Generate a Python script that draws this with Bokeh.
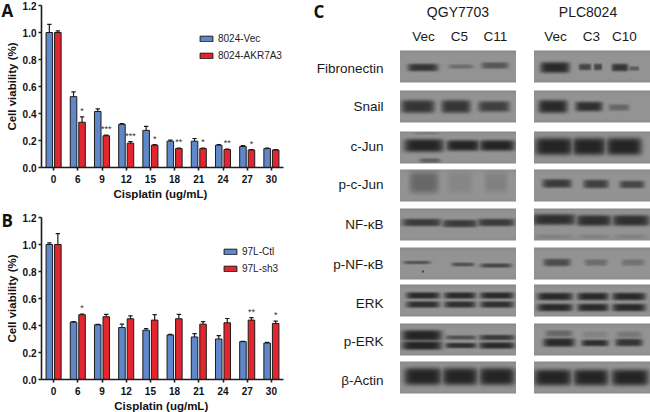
import math
import numpy as np
from bokeh.embed import file_html
from bokeh.resources import INLINE
from bokeh.layouts import row, column
from bokeh.models import ColumnDataSource, FactorRange, Range1d, Legend, LegendItem, FixedTicker, NumeralTickFormatter
from bokeh.plotting import figure
from bokeh.transform import dodge
from bokeh.core.properties import value

DOSES = ["0", "6", "9", "12", "15", "18", "21", "24", "27", "30"]
A_VEC = [1.0, .525, .415, .32, .275, .195, .195, .165, .155, .14]
A_VEC_ERR = [.06, .035, .02, .005, .03, .008, .02, .004, .007, .004]
A_AKR = [1.0, .335, .235, .18, .165, .14, .14, .133, .13, .13]
A_AKR_ERR = [.012, .04, .005, .012, .004, .003, .003, .003, .003, .003]
A_STARS = ["", "*", "***", "***", "*", "**", "*", "**", "*", ""]
B_CTL = [1.0, .425, .405, .385, .365, .33, .315, .30, .28, .27]
B_CTL_ERR = [.012, .003, .003, .025, .012, .005, .025, .025, .002, .005]
B_SH3 = [1.0, .48, .465, .45, .44, .45, .41, .42, .44, .415]
B_SH3_ERR = [.08, .005, .018, .022, .04, .032, .018, .032, .018, .018]
B_STARS = ["", "*", "", "", "", "", "", "", "**", "*"]
X_TITLE = "Cisplatin (ug/mL)"
Y_TITLE = "Cell viability (%)"

BLUE = "#5f87c9"
RED = "#e2252f"
INK = "#1c1c1c"
BOLD = "Liberation Sans"
STRIP_W = 19
STRIP_H = 13


def bar_panel(name1, v1, e1, name2, v2, e2, stars, height, top, left, legend_xy):
    bottom = height - top - 162
    p = figure(width=310 - STRIP_W, height=height, x_range=FactorRange(factors=DOSES, range_padding=0),
               y_range=Range1d(0, 1.2), output_backend="svg", toolbar_location=None,
               min_border_left=left, min_border_right=310 - STRIP_W - left - 244, min_border_top=top,
               min_border_bottom=bottom, outline_line_color=None)
    p.grid.visible = False
    src = ColumnDataSource(dict(x=DOSES, a=v1, b=v2,
                                at=[v + e for v, e in zip(v1, e1)],
                                bt=[v + e for v, e in zip(v2, e2)],
                                s=stars))
    off = 0.176
    w = 0.27
    r1 = p.vbar(x=dodge("x", -off, range=p.x_range), top="a", width=w, bottom=0, source=src,
                fill_color=BLUE, line_color=INK, line_width=1)
    r2 = p.vbar(x=dodge("x", off, range=p.x_range), top="b", width=w, bottom=0, source=src,
                fill_color=RED, line_color=INK, line_width=1)
    for col, o in (("at", -off), ("bt", off)):
        base = "a" if col == "at" else "b"
        p.segment(x0=dodge("x", o, range=p.x_range), x1=dodge("x", o, range=p.x_range),
                  y0=base, y1=col, source=src, line_color=INK, line_width=1.2)
        p.segment(x0=dodge("x", o - 0.09, range=p.x_range), x1=dodge("x", o + 0.09, range=p.x_range),
                  y0=col, y1=col, source=src, line_color=INK, line_width=1.2)
    p.text(x=dodge("x", off, range=p.x_range), y="bt", text="s", source=src, text_align="center",
           text_baseline="middle", y_offset=-6, text_font=value(BOLD), text_font_size="9px",
           text_color="#333333")
    p.yaxis.ticker = FixedTicker(ticks=[0, .2, .4, .6, .8, 1.0, 1.2])
    p.yaxis.formatter = NumeralTickFormatter(format="0.0")
    for ax in (p.xaxis[0], p.yaxis[0]):
        ax.axis_line_width = 1.6
        ax.axis_line_color = INK
        ax.major_tick_line_width = 1.6
        ax.major_tick_line_color = INK
        ax.minor_tick_line_color = None
        ax.major_tick_out = 3
        ax.major_tick_in = 0
        ax.major_label_text_font = BOLD
        ax.major_label_text_font_style = "bold"
        ax.major_label_text_font_size = "10px"
        ax.major_label_text_color = "#111111"
    p.yaxis.major_label_standoff = 2
    p.xaxis.major_label_standoff = 4
    leg = Legend(items=[LegendItem(label=name1, renderers=[r1]), LegendItem(label=name2, renderers=[r2])],
                 location=legend_xy, background_fill_alpha=0, border_line_color=None,
                 glyph_width=16, glyph_height=7, label_standoff=4, spacing=6, padding=0, margin=0,
                 label_text_font="Liberation Sans", label_text_font_size="10px", label_text_color="#222222",
                 label_height=7)
    p.add_layout(leg, "center")
    return p


def text_strip(width, height, x0=0):
    p = figure(width=width, height=height, x_range=Range1d(x0, x0 + width), y_range=Range1d(0, height),
               output_backend="svg", toolbar_location=None, min_border=0, outline_line_color=None)
    p.axis.visible = False
    p.grid.visible = False
    return p


pa = bar_panel("8024-Vec", A_VEC, A_VEC_ERR, "8024-AKR7A3", A_AKR, A_AKR_ERR, A_STARS,
               187, 5, 39 - STRIP_W, (157, 106))
pb = bar_panel("97L-Ctl", B_CTL, B_CTL_ERR, "97L-sh3", B_SH3, B_SH3_ERR, B_STARS,
               199, 17, 41 - STRIP_W, (181, 105))

xa = text_strip(310 - STRIP_W, STRIP_H, STRIP_W)
xa.text(x=[162], y=[7], text=[X_TITLE], text_align="center", text_baseline="middle",
        text_font=value(BOLD), text_font_style="bold", text_font_size="11.5px", text_color="#111111")
xb = text_strip(310 - STRIP_W, STRIP_H, STRIP_W)
xb.text(x=[163], y=[7], text=[X_TITLE], text_align="center", text_baseline="middle",
        text_font=value(BOLD), text_font_style="bold", text_font_size="11.5px", text_color="#111111")

FIG_H = 412
yl = text_strip(STRIP_W, FIG_H)
yl.text(x=[11, 11], y=[FIG_H - 86, FIG_H - 298], text=[Y_TITLE, Y_TITLE], angle=math.pi / 2, text_align="center",
        text_baseline="middle", text_font=value(BOLD), text_font_style="bold", text_font_size="11.5px",
        text_color="#111111")
yl.text(x=[1, 1], y=[FIG_H - 10, FIG_H - 220], text=["A", "B"], text_baseline="middle",
        text_font=value("Open Sans"), text_font_style="bold", text_font_size="17px", text_color="#111111")

# Western-blot panel: bands as (centre x, centre y, half width, half height, darkness) inside a panel
ROW_LABELS = ["Fibronectin", "Snail", "c-Jun", "p-c-Jun", "NF-κB", "p-NF-κB", "ERK", "p-ERK", "β-Actin"]
GROUPS = ["QGY7703", "PLC8024"]
LANES = ["Vec", "C5", "C11", "Vec", "C3", "C10"]
FIBRONECTIN = [[(23, 17, 14.5, 3.5, .85), (61, 16, 12, 2, .35), (95, 15, 13, 3, .55)],
               [(21, 17, 14, 5, .95), (51, 16.5, 6, 3, .7), (64, 16.5, 4, 3, .7), (86, 17, 8, 3.5, .85), (100, 18, 5, 2, .5)]]
SNAIL = [[(18, 16, 16, 6, .85), (56, 16, 14, 6, .85), (94, 16, 15, 5, .75)],
         [(19, 16, 14, 6, .95), (55, 16, 13, 4.5, .9), (85, 17, 10, 3, .4)]]
CJUN = [[(24, 14, 19, 6, 1), (63, 14, 16, 5, 1), (97, 14, 17, 5, 1), (27, 2, 12, 1, .2), (30, 29, 10, 2, .45)],
        [(20, 15, 18, 8, 1), (55, 15, 16, 8, 1), (90, 15, 17, 8, 1)]]
PCJUN = [[(24, 13, 14, 10, .4), (60, 13, 12, 10, .12), (96, 13, 11, 9, .17)],
         [(23, 14, 14, 4, .8), (62, 14.5, 12, 4, .75), (98, 15, 12, 3.5, .7)]]
NFKB = [[(22, 14, 19, 3.5, .8), (60, 15, 17, 3.5, .8), (96, 14, 18, 3.5, .8)],
        [(20, 11, 21, 5, .9), (60, 12, 17, 5, .9), (97, 12, 18, 5, .9), (20, 28, 18, 2, .15), (60, 28, 15, 2, .15), (97, 28, 15, 2, .15)]]
PNFKB = [[(17, 15, 13, 1.5, .6), (63, 17, 11, 1.8, .6), (96, 18, 15, 2, .7), (23, 24, 1, 1, .7)],
         [(23, 15, 13, 3.5, .65), (62, 15, 11, 3, .35), (99, 15, 11, 3, .3)]]
ERK = [[(23, 11, 16, 3, .95), (23, 20, 16, 3, .9), (60, 11, 15, 3, .95), (60, 20, 15, 3, .9), (97, 11, 16, 3, .95), (97, 20, 16, 3, .9)],
       [(21, 12, 17, 3.5, .95), (21, 23, 17, 3.5, .95), (59, 12, 15, 3.5, .95), (59, 23, 15, 3.5, .95), (95, 12, 16, 3.5, .95), (95, 23, 16, 3.5, .95)]]
PERK = [[(22, 12, 19, 5, 1), (22, 22, 19, 4, 1), (61, 14, 15, 2, .6), (61, 22, 15, 2.5, .9), (97, 14, 17, 2.5, .8), (97, 22, 17, 3, .95)],
        [(25, 10, 13, 3, .4), (25, 19, 15, 4, .95), (61, 11, 12, 3, .15), (61, 19.5, 13, 3, .9), (95, 11, 12, 3, .25), (95, 19, 13, 3.5, .85)]]
ACTIN = [[(23, 15, 18, 8, 1), (60, 15, 17, 8, 1), (97, 15, 17, 8, 1)],
         [(19, 16, 18, 7.5, 1), (57, 16, 17, 7.5, 1), (96, 16, 18, 7.5, 1)]]
ROW_BANDS = [FIBRONECTIN, SNAIL, CJUN, PCJUN, NFKB, PNFKB, ERK, PERK, ACTIN]

ROW_TOPS = [50, 90, 131, 169, 208, 247, 284, 323, 361]
ROW_MIDS = [68, 106, 146, 184, 224, 264, 303, 341, 380]
PANEL_LEFTS = [399.5, 533.5]
PANEL_W, PANEL_H = 116, 32


def blot(bands):
    k = 3
    h, w = PANEL_H * k, PANEL_W * k
    yy, xx = np.mgrid[0:h, 0:w]
    xx = (xx + .5) / k
    yy = (yy + .5) / k
    dark = np.zeros((h, w))
    for cx, cy, hw, hh, d in bands:
        s = np.exp(-(np.abs(xx - cx) / (hw * 1.05)) ** 6 - (np.abs(yy - cy) / (hh * 1.1)) ** 4)
        dark = np.maximum(dark, d * s)
    bg = 148 - 14 * np.exp(-yy / 1.5) - 10 * np.exp(-(PANEL_H - yy) / 1.5)
    g = (bg * (1 - dark) + 36 * dark).astype(np.uint32)
    rgba = (255 << 24) | (g << 16) | (g << 8) | g
    return rgba[::-1]


pc = figure(width=340, height=FIG_H, x_range=Range1d(310, 650), y_range=Range1d(0, FIG_H),
            output_backend="svg", toolbar_location=None, min_border=0, outline_line_color=None)
pc.axis.visible = False
pc.grid.visible = False
for top, rowb in zip(ROW_TOPS, ROW_BANDS):
    for left, bands in zip(PANEL_LEFTS, rowb):
        pc.image_rgba(image=[blot(bands)], x=left, y=FIG_H - top - PANEL_H, dw=PANEL_W, dh=PANEL_H)

LABEL_FONT = value("Liberation Sans")
pc.text(x=[383] * 9, y=[FIG_H - m for m in ROW_MIDS], text=ROW_LABELS, text_align="right",
        text_baseline="middle", text_font=LABEL_FONT, text_font_size="13.5px", text_color="#1a1a1a")
pc.text(x=[457.5, 587.5], y=[FIG_H - 11] * 2, text=GROUPS, text_align="center", text_baseline="middle",
        text_font=LABEL_FONT, text_font_size="14px", text_color="#1a1a1a")
pc.text(x=[423, 459, 495, 555, 591, 624], y=[FIG_H - 36] * 6, text=LANES, text_align="center",
        text_baseline="middle", text_font=LABEL_FONT, text_font_size="13.5px", text_color="#1a1a1a")
pc.text(x=[313], y=[FIG_H - 11], text=["C"], text_baseline="middle", text_font=value("Open Sans"),
        text_font_style="bold", text_font_size="17px", text_color="#111111")

root = row(yl, column(pa, xa, pb, xb, spacing=0), pc, spacing=0)
open("out.html", "w").write(file_html(root, INLINE))
